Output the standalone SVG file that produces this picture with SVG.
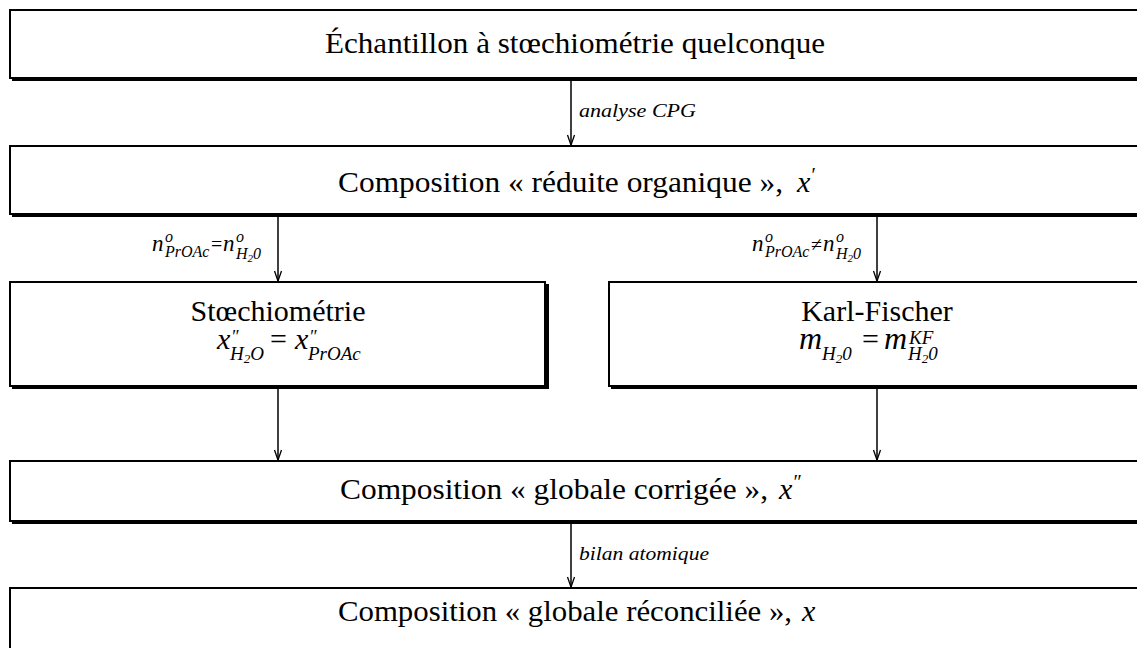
<svg xmlns="http://www.w3.org/2000/svg" width="1137" height="648" viewBox="0 0 1137 648">
  <style>
    .shadow { fill: #000; }
    .box { fill: #fff; stroke: #000; stroke-width: 2; }
    .t { font-family: "Liberation Serif", serif; font-size: 30px; fill: #000; }
    .m { font-family: "Liberation Serif", serif; font-style: italic; fill: #000; }
    .up { font-family: "Liberation Serif", serif; font-style: normal; fill: #000; }
    .lbl { font-family: "Liberation Serif", serif; font-style: italic; font-size: 19px; fill: #000; }
    .conn { stroke: #000; stroke-width: 1.5; fill: none; }
  </style>
  <defs>
    <marker id="arrow" markerUnits="userSpaceOnUse" markerWidth="14" markerHeight="14" viewBox="-12 -6 14 12" refX="0" refY="0" orient="auto">
      <path d="M -10 -3.5 L 0 0 L -10 3.5" fill="none" stroke="#000" stroke-width="1.3"/>
    </marker>
  </defs>
  <rect width="1137" height="648" fill="#fff"/>

  <!-- sample -->
  <g id="echantillon">
    <rect class="shadow" x="12" y="12" width="1142" height="69"/>
    <rect class="box" x="10" y="10" width="1140" height="68"/>
    <text class="t" x="325" y="53" textLength="500" lengthAdjust="spacingAndGlyphs">Échantillon à stœchiométrie quelconque</text>
  </g>

  <!-- reduced organic composition -->
  <g id="reduite">
    <rect class="shadow" x="12" y="148" width="1142" height="69"/>
    <rect class="box" x="10" y="146" width="1140" height="68"/>
    <text class="t" x="338" y="192" textLength="445" lengthAdjust="spacingAndGlyphs">Composition « réduite organique »,</text>
    <text class="m" x="797" y="192" font-size="30">x<tspan font-size="20" dy="-10">′</tspan></text>
  </g>

  <!-- stoichiometric branch -->
  <g id="stoechiometrie">
    <rect class="shadow" x="12" y="284" width="537" height="105"/>
    <rect class="box" x="10" y="282" width="535" height="104"/>
    <text class="t" x="278" y="321" text-anchor="middle">Stœchiométrie</text>
    <text class="m" font-size="30">
      <tspan x="217" y="349">x</tspan><tspan font-size="18" x="231" y="343">″</tspan>
      <tspan font-size="19" x="230" y="360">H</tspan><tspan font-size="13" y="363">2</tspan><tspan font-size="19" y="360">O</tspan>
      <tspan class="up" x="270" y="349">=</tspan>
      <tspan x="295" y="349">x</tspan><tspan font-size="18" x="309" y="343">″</tspan>
      <tspan font-size="19" x="308" y="360">PrOAc</tspan>
    </text>
  </g>

  <!-- Karl-Fischer branch -->
  <g id="karl-fischer">
    <rect class="shadow" x="611" y="284" width="542" height="105"/>
    <rect class="box" x="609" y="282" width="540" height="104"/>
    <text class="t" x="877" y="321" text-anchor="middle">Karl-Fischer</text>
    <text class="m" font-size="32">
      <tspan x="799" y="349">m</tspan>
      <tspan font-size="19" x="822" y="360">H</tspan><tspan font-size="13" y="363">2</tspan><tspan font-size="19" y="360">0</tspan>
      <tspan class="up" font-size="30" x="862" y="349">=</tspan>
      <tspan x="884" y="349">m</tspan>
      <tspan font-size="19" x="909" y="344">KF</tspan>
      <tspan font-size="19" x="908" y="360">H</tspan><tspan font-size="13" y="363">2</tspan><tspan font-size="19" y="360">0</tspan>
    </text>
  </g>

  <!-- corrected global composition -->
  <g id="corrigee">
    <rect class="shadow" x="12" y="463" width="1142" height="61"/>
    <rect class="box" x="10" y="461" width="1140" height="60"/>
    <text class="t" x="340" y="499" textLength="428" lengthAdjust="spacingAndGlyphs">Composition « globale corrigée »,</text>
    <text class="m" x="779" y="499" font-size="30">x<tspan font-size="20" dy="-10">″</tspan></text>
  </g>

  <!-- reconciled global composition -->
  <g id="reconciliee">
    <rect class="shadow" x="12" y="590" width="1142" height="80"/>
    <rect class="box" x="10" y="588" width="1140" height="80"/>
    <text class="t" x="338" y="621" textLength="454" lengthAdjust="spacingAndGlyphs">Composition « globale réconciliée »,</text>
    <text class="m" x="802" y="621" font-size="30">x</text>
  </g>

  <!-- connectors -->
  <g id="connectors">
    <line class="conn" x1="571" y1="81" x2="571" y2="145" marker-end="url(#arrow)"/>
    <line class="conn" x1="278" y1="217" x2="278" y2="281" marker-end="url(#arrow)"/>
    <line class="conn" x1="877" y1="217" x2="877" y2="281" marker-end="url(#arrow)"/>
    <line class="conn" x1="278" y1="389" x2="278" y2="460" marker-end="url(#arrow)"/>
    <line class="conn" x1="877" y1="389" x2="877" y2="460" marker-end="url(#arrow)"/>
    <line class="conn" x1="571" y1="524" x2="571" y2="587" marker-end="url(#arrow)"/>

    <text class="lbl" x="579" y="117" textLength="117" lengthAdjust="spacingAndGlyphs">analyse  CPG</text>
    <text class="lbl" x="579" y="560" textLength="130" lengthAdjust="spacingAndGlyphs">bilan  atomique</text>

    <text class="m" font-size="23">
      <tspan x="152" y="251">n</tspan><tspan font-size="16" x="165" y="242">o</tspan>
      <tspan font-size="16" x="165" y="257">PrOAc</tspan>
      <tspan class="up" font-size="20" x="211" y="251">=</tspan>
      <tspan x="223" y="251">n</tspan><tspan font-size="16" x="236" y="242">o</tspan>
      <tspan font-size="16" x="236" y="259">H</tspan><tspan font-size="11" y="262">2</tspan><tspan font-size="16" y="259">0</tspan>
    </text>
    <text class="m" font-size="23">
      <tspan x="752" y="251">n</tspan><tspan font-size="16" x="765" y="242">o</tspan>
      <tspan font-size="16" x="765" y="257">PrOAc</tspan>
      <tspan class="up" font-size="20" x="811" y="251">≠</tspan>
      <tspan x="823" y="251">n</tspan><tspan font-size="16" x="836" y="242">o</tspan>
      <tspan font-size="16" x="836" y="259">H</tspan><tspan font-size="11" y="262">2</tspan><tspan font-size="16" y="259">0</tspan>
    </text>
  </g>
</svg>
